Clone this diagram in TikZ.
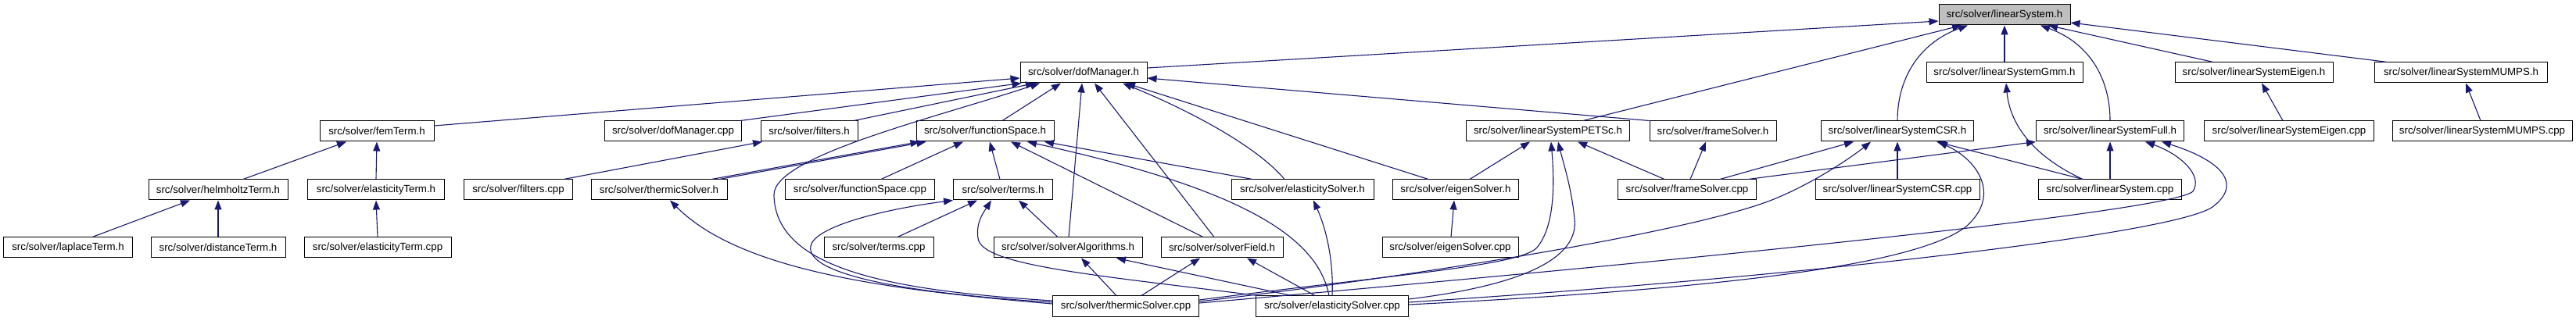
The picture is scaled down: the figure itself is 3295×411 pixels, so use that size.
\documentclass[tikz,border=0pt]{standalone}
\usepackage{fontspec}
\setmainfont{Liberation Sans}
\usetikzlibrary{arrows.meta,calc}
\definecolor{edgeblue}{HTML}{191970}
\definecolor{rootgray}{HTML}{BFBFBF}
\begin{document}
\begin{tikzpicture}[x=1pt,y=-1pt,
  box/.style={draw=black, line width=1pt, fill=white, minimum height=26pt, inner sep=0pt, font=\fontsize{13.3}{16}\selectfont},
  edge/.style={draw=edgeblue, line width=1.1pt, -{Triangle[length=12pt,width=9pt]}},
]
\useasboundingbox[fill=white] (0,0) rectangle (3295,411);
% row 0
\node[box, minimum width=168pt, fill=rootgray] (ls) at (2564,19) {src/solver/linearSystem.h};
% row 1
\node[box, minimum width=162pt] (dof) at (1386,93) {src/solver/dofManager.h};
\node[box, minimum width=200pt] (gmm) at (2564,93) {src/solver/linearSystemGmm.h};
\node[box, minimum width=202pt] (eigh) at (2883,93) {src/solver/linearSystemEigen.h};
\node[box, minimum width=221pt] (mumpsh) at (3148,93) {src/solver/linearSystemMUMPS.h};
% row 2
\node[box, minimum width=146pt] (fem) at (482,168) {src/solver/femTerm.h};
\node[box, minimum width=175pt] (dofcpp) at (861,168) {src/solver/dofManager.cpp};
\node[box, minimum width=124pt] (filters) at (1035,168) {src/solver/filters.h};
\node[box, minimum width=176pt] (fs) at (1260,168) {src/solver/functionSpace.h};
\node[box, minimum width=209pt] (petsc) at (1980,168) {src/solver/linearSystemPETSc.h};
\node[box, minimum width=162pt] (frameh) at (2191,168) {src/solver/frameSolver.h};
\node[box, minimum width=195pt] (csr) at (2427,168) {src/solver/linearSystemCSR.h};
\node[box, minimum width=189pt] (full) at (2699,168) {src/solver/linearSystemFull.h};
\node[box, minimum width=217pt] (eigcpp) at (2928,168) {src/solver/linearSystemEigen.cpp};
\node[box, minimum width=230pt] (mumpscpp) at (3175,168) {src/solver/linearSystemMUMPS.cpp};
% row 3
\node[box, minimum width=178pt] (helm) at (279,243) {src/solver/helmholtzTerm.h};
\node[box, minimum width=175pt] (elt) at (481,243) {src/solver/elasticityTerm.h};
\node[box, minimum width=139pt] (filcpp) at (663,243) {src/solver/filters.cpp};
\node[box, minimum width=174pt] (thermh) at (843,243) {src/solver/thermicSolver.h};
\node[box, minimum width=191pt] (fscpp) at (1100,243) {src/solver/functionSpace.cpp};
\node[box, minimum width=127pt] (terms) at (1283,243) {src/solver/terms.h};
\node[box, minimum width=182pt] (elsh) at (1666,243) {src/solver/elasticitySolver.h};
\node[box, minimum width=161pt] (eigsh) at (1862,243) {src/solver/eigenSolver.h};
\node[box, minimum width=177pt] (framecpp) at (2158,243) {src/solver/frameSolver.cpp};
\node[box, minimum width=210pt] (csrcpp) at (2427,243) {src/solver/linearSystemCSR.cpp};
\node[box, minimum width=183pt] (lscpp) at (2699,243) {src/solver/linearSystem.cpp};
% row 4
\node[box, minimum width=165pt] (lap) at (87,317) {src/solver/laplaceTerm.h};
\node[box, minimum width=172pt] (dist) at (279,317) {src/solver/distanceTerm.h};
\node[box, minimum width=188pt] (eltcpp) at (483,317) {src/solver/elasticityTerm.cpp};
\node[box, minimum width=140pt] (termscpp) at (1124,317) {src/solver/terms.cpp};
\node[box, minimum width=190pt] (salg) at (1366,317) {src/solver/solverAlgorithms.h};
\node[box, minimum width=156pt] (sfield) at (1563,317) {src/solver/solverField.h};
\node[box, minimum width=174pt] (eigscpp) at (1855,317) {src/solver/eigenSolver.cpp};
% row 5
\node[box, minimum width=187pt] (tcpp) at (1440,392) {src/solver/thermicSolver.cpp};
\node[box, minimum width=195pt] (elscpp) at (1704,392) {src/solver/elasticitySolver.cpp};

% edges into linearSystem.h
\draw[edge] ($(dof.east)+(0,-6)$) -- ($(ls.west)+(0,8)$);
\draw[edge] ($(petsc.north)+(45,0)$) -- ($(ls.south)+(-55,0)$);
\draw[edge] (csr.north) .. controls (2427,100) and (2455,55) .. ($(ls.south)+(-47,0)$);
\draw[edge] (gmm.north) -- (ls.south);
\draw[edge] (full.north) .. controls (2699,100) and (2672,55) .. ($(ls.south)+(46,0)$);
\draw[edge] ($(eigh.north)+(-52,0)$) -- ($(ls.south)+(56,0)$);
\draw[edge] ($(mumpsh.north)+(-94,0)$) -- ($(ls.east)+(0,10)$);
\draw[edge] ($(eigcpp.north)+(-8,0)$) -- ($(eigh.south)+(10,0)$);
\draw[edge] ($(mumpscpp.north)+(-2,0)$) -- ($(mumpsh.south)+(6,0)$);
% edges into dofManager.h
\draw[edge] ($(fem.east)+(0,-7)$) -- ($(dof.west)+(0,7)$);
\draw[edge] ($(dofcpp.north)+(86,0)$) -- ($(dof.south west)+(2,0)$);
\draw[edge] ($(filters.north)+(57,0)$) -- ($(dof.south)+(-62,0)$);
\draw[edge] ($(tcpp.west)+(0,-7)$) .. controls (1140,372) and (992,345) .. (990,250) .. controls (988,200) and (1200,150) .. ($(dof.south)+(-56,0)$);
\draw[edge] ($(fs.north)+(22,0)$) -- ($(dof.south)+(-29,0)$);
\draw[edge] ($(salg.north)+(1,0)$) -- ($(dof.south)+(-2,0)$);
\draw[edge] ($(sfield.north)+(-10,0)$) -- ($(dof.south)+(14,0)$);
\draw[edge] ($(elsh.north)+(-23,0)$) .. controls (1610,190) and (1530,145) .. ($(dof.south)+(50,0)$);
\draw[edge] ($(eigsh.north)+(-35,0)$) -- ($(dof.south)+(54,0)$);
\draw[edge] (frameh.north west) -- ($(dof.east)+(0,7)$);
% term family
\draw[edge] ($(helm.north)+(32,0)$) -- ($(fem.south)+(-39,0)$);
\draw[edge] (elt.north) -- (fem.south);
\draw[edge] ($(lap.north)+(31,0)$) -- ($(helm.south)+(-36,0)$);
\draw[edge] (dist.north) -- (helm.south);
\draw[edge] (eltcpp.north) -- (elt.south);
\draw[edge] ($(filcpp.north)+(58,0)$) -- ($(filters.south)+(-60,0)$);
% into functionSpace.h
\draw[edge] ($(fscpp.north)+(27,0)$) -- ($(fs.south)+(-28,0)$);
\draw[edge] ($(terms.north)+(-4,0)$) -- ($(fs.south)+(6,0)$);
\draw[edge] ($(sfield.north)+(-24,0)$) -- ($(fs.south)+(33,0)$);
\draw[edge] ($(elscpp.north)+(-4,0)$) .. controls (1685,300) and (1580,240) .. ($(fs.south)+(54,0)$);
\draw[edge] ($(elsh.north)+(-64,0)$) -- ($(fs.south)+(76,0)$);
\draw[edge] ($(thermh.north)+(67,0)$) -- ($(fs.south west)+(5,0)$);
\draw[edge] ($(thermh.north)+(77,0)$) -- ($(fs.south west)+(13,0)$);
% into terms.h
\draw[edge] ($(tcpp.west)+(0,-5)$) .. controls (1150,375) and (1030,350) .. (1037,315) .. controls (1042,290) and (1130,268) .. (terms.south west);
\draw[edge] ($(termscpp.north)+(24,0)$) -- ($(terms.south)+(-33,0)$);
\draw[edge] ($(salg.north)+(-13,0)$) -- ($(terms.south)+(20,0)$);
\draw[edge] ($(elscpp.north west)+(3,0)$) .. controls (1400,352) and (1255,340) .. (1251,305) .. controls (1248,285) and (1258,272) .. ($(terms.south)+(-15,0)$);
% solver headers
\draw[edge] ($(tcpp.north)+(-12,0)$) -- ($(salg.south)+(17,0)$);
\draw[edge] ($(elscpp.north)+(-52,0)$) -- ($(salg.south)+(62,0)$);
\draw[edge] ($(tcpp.north)+(20,0)$) -- ($(sfield.south)+(-28,0)$);
\draw[edge] ($(elscpp.north)+(-22,0)$) -- ($(sfield.south)+(32,0)$);
\draw[edge] (elscpp.north) .. controls (1706,330) and (1695,290) .. ($(elsh.south)+(14,0)$);
\draw[edge] ($(tcpp.west)+(0,-3)$) .. controls (1150,372) and (950,350) .. ($(thermh.south)+(14,0)$);
\draw[edge] ($(eigscpp.north)+(1,0)$) -- ($(eigsh.south)+(-2,0)$);
% into PETSc / frameSolver
\draw[edge] ($(eigsh.north)+(18,0)$) -- ($(petsc.south)+(-23,0)$);
\draw[edge] ($(framecpp.north)+(-29,0)$) -- ($(petsc.south)+(38,0)$);
\draw[edge] ($(framecpp.north)+(4,0)$) -- ($(frameh.south)+(-9,0)$);
\draw[edge] ($(tcpp.east)+(0,-8)$) .. controls (1800,350) and (1940,340) .. (1965,318) .. controls (1990,290) and (1988,230) .. ($(petsc.south)+(4,0)$);
\draw[edge] ($(elscpp.east)+(0,-9)$) .. controls (1950,365) and (2020,330) .. (2014,280) .. controls (2010,240) and (2000,210) .. ($(petsc.south)+(13,0)$);
% into CSR / Gmm / Full
\draw[edge] ($(framecpp.north)+(42,0)$) -- ($(csr.south)+(-56,0)$);
\draw[edge] ($(framecpp.north)+(78,0)$) -- (full.south west);
\draw[edge] (csrcpp.north) -- (csr.south);
\draw[edge] ($(lscpp.north)+(-35,0)$) -- ($(csr.south)+(50,0)$);
\draw[edge] ($(lscpp.north)+(-35,0)$) .. controls (2590,195) and (2570,150) .. ($(gmm.south)+(2,0)$);
\draw[edge] (lscpp.north) -- (full.south);
\draw[edge] ($(tcpp.east)+(0,-6)$) .. controls (1800,355) and (2150,300) .. (2264,257) .. controls (2320,235) and (2370,200) .. ($(csr.south)+(-34,0)$);
\draw[edge] ($(tcpp.east)+(0,-4)$) .. controls (2200,330) and (2780,270) .. (2805,245) .. controls (2818,225) and (2790,198) .. ($(full.south)+(45,0)$);
\draw[edge] ($(elscpp.east)+(0,-5)$) .. controls (2300,355) and (2780,300) .. (2830,265) .. controls (2870,235) and (2840,205) .. ($(full.south)+(66,0)$);
\draw[edge] ($(elscpp.east)+(0,-2)$) .. controls (2200,370) and (2450,340) .. (2515,290) .. controls (2560,250) and (2530,205) .. ($(csr.south)+(52,0)$);
\end{tikzpicture}
\end{document}
